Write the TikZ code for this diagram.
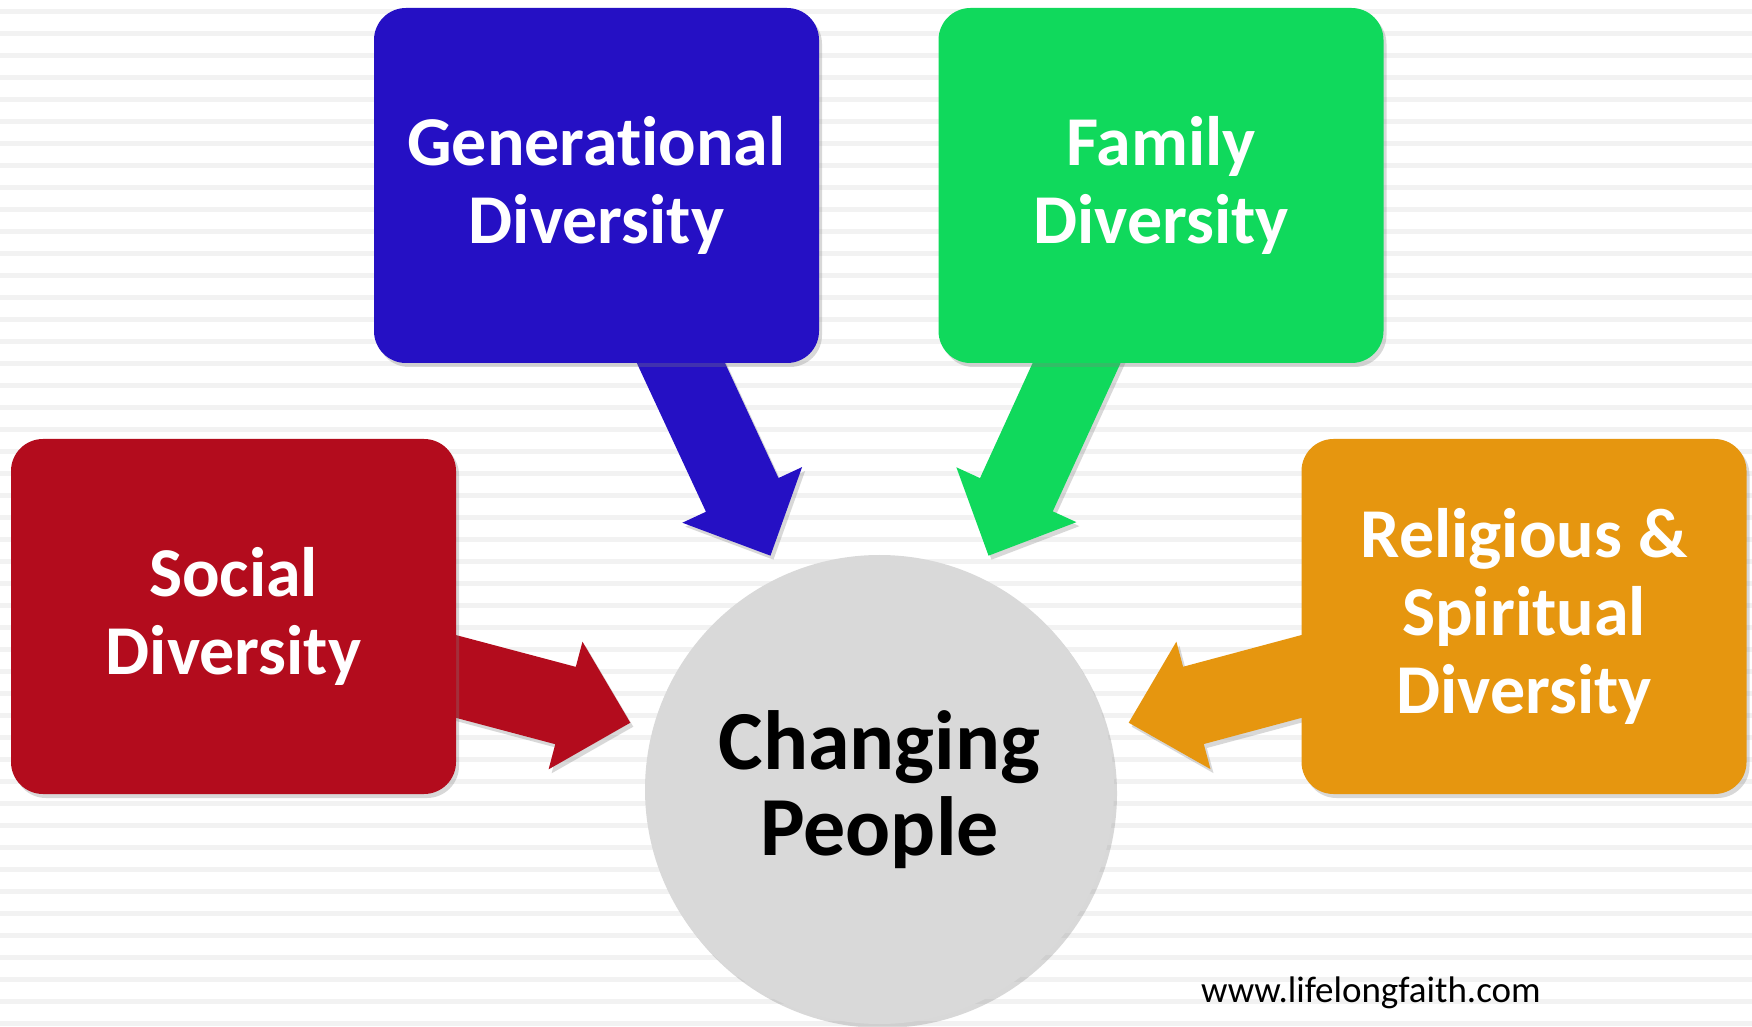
\documentclass[tikz,border=0pt]{standalone}
\usepackage{fontspec}
\setmainfont[Ligatures=NoCommon]{Carlito}
\usetikzlibrary{calc,shadows}
\definecolor{genblue}{HTML}{2510C4}
\definecolor{famgreen}{HTML}{10D95C}
\definecolor{socred}{HTML}{B30C1D}
\definecolor{relorange}{HTML}{E6960F}
\definecolor{hubgray}{HTML}{D9D9D9}
\definecolor{stripegray}{HTML}{F2F2F2}
\pgfdeclarelayer{paper}
\pgfdeclarelayer{background}
\pgfsetlayers{paper,background,main}

\tikzstyle{soft shadow}=[drop shadow={opacity=0.3,shadow xshift=3pt,shadow yshift=-4pt}]
\tikzstyle{box}=[soft shadow,rounded corners=32pt,minimum width=445pt,
    minimum height=355pt,inner sep=0pt,text=white,align=center,
    font=\bfseries\fontsize{70}{78}\selectfont]
\tikzstyle{hub}=[soft shadow,circle,fill=hubgray,minimum size=469pt,
    inner sep=0pt,align=center,font=\bfseries\fontsize{84}{86}\selectfont]
\tikzstyle{bigarrow}=[soft shadow]
\newcommand{\fatarrow}[3][]{
    \path ($(#3)!67pt!(#2)$) coordinate (#2-hb);
    \fill[bigarrow,#1] ($(#2)!40pt!90:(#3)$) -- ($(#2-hb)!40pt!90:(#3)$) --
        ($(#2-hb)!66pt!90:(#3)$) -- (#3) -- ($(#2-hb)!66pt!-90:(#3)$) --
        ($(#2-hb)!40pt!-90:(#3)$) -- ($(#2)!40pt!-90:(#3)$) -- cycle;
}

\begin{document}
\begin{tikzpicture}[x=1pt,y=1pt]
    \useasboundingbox (0,0) rectangle (1752,1026);
    \begin{pgfonlayer}{paper}
        \fill[white] (0,0) rectangle (1752,1026);
        \foreach \k in {0,...,46}
            \fill[stripegray] (0,{1012-22*\k}) rectangle (1752,{1017-22*\k});
    \end{pgfonlayer}
    %
    \node[box,fill=genblue] (GEN) at (596.5,840.5) {Generational\\Diversity};
    \node[box,fill=famgreen] (FAM) at (1161,840.5) {Family\\Diversity};
    \node[box,fill=socred] (SOC) at (233.5,409.5) {Social\\Diversity};
    \node[box,fill=relorange] (REL) at (1524,409.5) {Religious \&\\Spiritual\\Diversity};
    %
    \node[hub] (CHG) at (879.5,236.5) {Changing\\People};
    %
    \coordinate (GENtip) at ($(CHG.center)+(115:258pt)$);
    \coordinate (FAMtip) at ($(CHG.center)+(65:258pt)$);
    \coordinate (SOCtip) at ($(CHG.center)+(165:258pt)$);
    \coordinate (RELtip) at ($(CHG.center)+(15:258pt)$);
    \coordinate (GENout) at ($([xshift=84.5pt]GEN.south)!-40pt!(GENtip)$);
    \coordinate (FAMout) at ($([xshift=-84.5pt]FAM.south)!-40pt!(FAMtip)$);
    \coordinate (SOCout) at ($([yshift=-60pt]SOC.east)!-40pt!(SOCtip)$);
    \coordinate (RELout) at ($([yshift=-60pt]REL.west)!-40pt!(RELtip)$);
    %
    \begin{pgfonlayer}{background}
        \fatarrow[fill=genblue]{GENout}{GENtip}
        \fatarrow[fill=famgreen]{FAMout}{FAMtip}
        \fatarrow[fill=socred]{SOCout}{SOCtip}
        \fatarrow[fill=relorange]{RELout}{RELtip}
    \end{pgfonlayer}
    %
    \node[anchor=base,font=\fontsize{37}{40}\selectfont] (URL) at (1371,24) {www.lifelongfaith.com};
\end{tikzpicture}
\end{document}
